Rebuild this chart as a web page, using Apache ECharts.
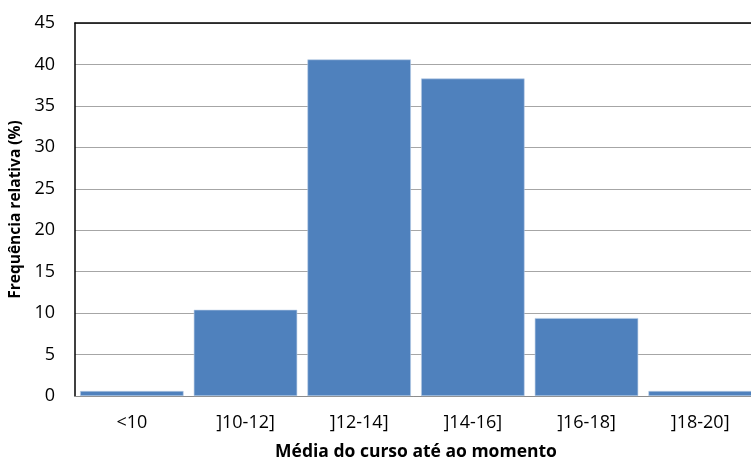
<!DOCTYPE html>
<html>
<head>
<meta charset="utf-8">
<script src="https://cdn.jsdelivr.net/npm/echarts@6/dist/echarts.min.js"></script>
<style>
  html, body { margin: 0; padding: 0; background: #fff; }
  #chart { width: 751px; height: 464px; }
</style>
</head>
<body>
<div id="chart"></div>
<script>
// Grade classes and relative frequency (%) of students in each
const categories = ['<10', ']10-12]', ']12-14]', ']14-16]', ']16-18]', ']18-20]'];
const frequencies = [0.6, 10.4, 40.6, 38.3, 9.4, 0.6];
const yTicks = { min: 0, max: 45, interval: 5 };

const fontFamily = '"Open Sans", "Liberation Sans", sans-serif';

const chart = echarts.init(document.getElementById('chart'));
chart.setOption({
  animation: false,
  backgroundColor: '#ffffff',
  grid: { left: 75, top: 23, bottom: 68, right: -6, containLabel: false, outerBoundsMode: 'none' },
  xAxis: [
    {
      type: 'category',
      data: categories,
      position: 'bottom',
      name: 'Média do curso até ao momento',
      nameLocation: 'middle',
      nameGap: 47,
      nameTextStyle: { fontFamily, fontSize: 17.5, fontWeight: 'bold', color: '#000' },
      axisLine: { show: true, lineStyle: { color: '#8c8c8c', width: 1 } },
      axisTick: { show: false },
      axisLabel: { fontFamily, fontSize: 18, color: '#000', margin: 18 }
    },
    {
      // top edge of the plot frame
      type: 'category',
      data: categories,
      position: 'top',
      axisLine: { show: true, lineStyle: { color: '#000', width: 1.5 } },
      axisTick: { show: false },
      axisLabel: { show: false }
    }
  ],
  yAxis: {
    type: 'value',
    min: yTicks.min,
    max: yTicks.max,
    interval: yTicks.interval,
    name: 'Frequência relativa (%)',
    nameLocation: 'middle',
    nameGap: 46,
    nameRotate: 90,
    nameTextStyle: { fontFamily, fontSize: 15.5, fontWeight: 'bold', color: '#000' },
    axisLine: { show: true, lineStyle: { color: '#000', width: 1.5 } },
    axisTick: { show: false },
    axisLabel: { fontFamily, fontSize: 18, color: '#000', margin: 20 },
    splitLine: { show: true, lineStyle: { color: '#a6a6a6', width: 1.2 } }
  },
  series: [{
    type: 'bar',
    data: frequencies,
    barCategoryGap: '9%',
    itemStyle: { color: '#4f81bd', borderColor: '#b9cde5', borderWidth: 0.6 },
    z: 3
  }]
});
</script>
</body>
</html>
